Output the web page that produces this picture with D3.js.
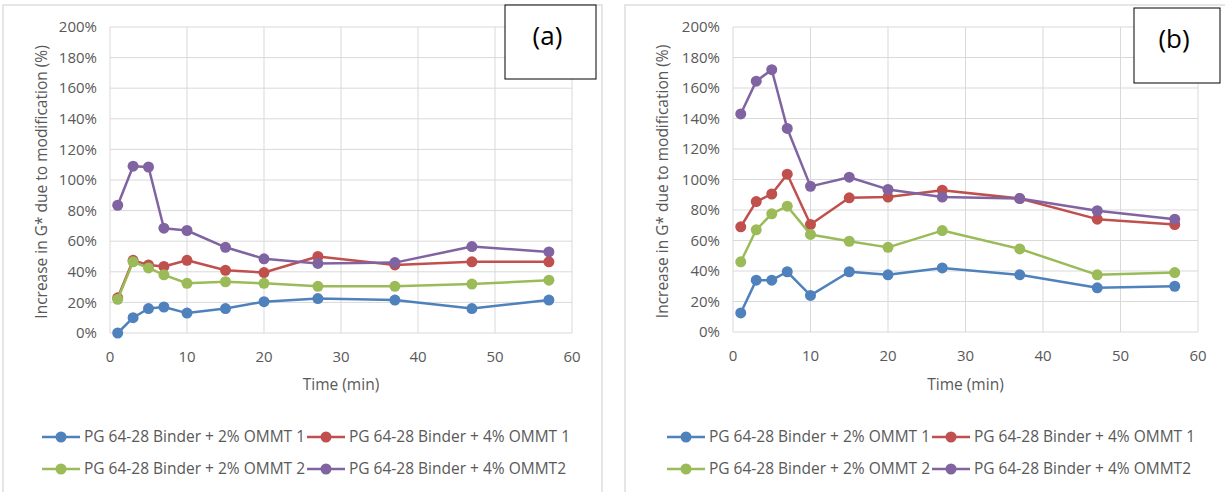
<!DOCTYPE html>
<html lang="en">
<head>
<meta charset="UTF-8">
<title>Increase in G* due to modification</title>
<script src="https://d3js.org/d3.v7.min.js"></script>
<style>
    body { margin: 0; background: #fff; }
    svg { display: block; font-family: 'Open Sans', 'Noto Sans', sans-serif; }
    .tick-label { fill: #595959; font-size: 15px; }
    .axis-title { fill: #595959; font-size: 15.5px; }
    .legend-label { fill: #595959; font-size: 15.5px; }
    .panel-tag { fill: #000; font-size: 26px; }
</style>
</head>
<body>
<svg id="chart" width="1225" height="492"></svg>
<script>
// Time of measurement (min)
const times = [1, 3, 5, 7, 10, 15, 20, 27, 37, 47, 57];

const seriesNames = [
    'PG 64-28 Binder + 2% OMMT 1',
    'PG 64-28 Binder + 4% OMMT 1',
    'PG 64-28 Binder + 2% OMMT 2',
    'PG 64-28 Binder + 4% OMMT2'
];
const seriesColors = ['#4F81BD', '#C0504D', '#9BBB59', '#8064A2'];

// panel (a), increase in G* (%)
const a2pct1 = [0, 10, 16, 17, 13, 16, 20.5, 22.5, 21.5, 16, 21.5];
const a4pct1 = [23, 47.5, 44.5, 43.5, 47.5, 41, 39.5, 50, 44.5, 46.5, 46.5];
const a2pct2 = [22, 46.5, 42.5, 38, 32.5, 33.5, 32.5, 30.5, 30.5, 32, 34.5];
const a4pct2 = [83.5, 109, 108.5, 68.5, 67, 56, 48.5, 45.5, 46, 56.5, 53];

// panel (b), increase in G* (%)
const b2pct1 = [12.5, 34, 34, 39.5, 24, 39.5, 37.5, 42, 37.5, 29, 30];
const b4pct1 = [69, 85.5, 90.5, 103.5, 70.5, 88, 88.5, 93, 87.5, 74, 70.5];
const b2pct2 = [46, 67, 77.5, 82.5, 64, 59.5, 55.5, 66.5, 54.5, 37.5, 39];
const b4pct2 = [143, 164.5, 172, 133.5, 95.5, 101.5, 93.5, 88.5, 87.5, 79.5, 74];

const xTicks = d3.range(0, 61, 10);
const yTicks = d3.range(0, 201, 20);

const svg = d3.select('#chart');

function drawPanel(p) {
    const g = svg.append('g');

    // outer chart border
    g.append('rect')
        .attr('x', p.frame[0]).attr('y', p.frame[1])
        .attr('width', p.frame[2]).attr('height', p.frame[3])
        .attr('fill', '#fff').attr('stroke', '#d9d9d9').attr('stroke-width', 1.3);

    const x = d3.scaleLinear().domain([0, 60]).range([p.left, p.right]);
    const y = d3.scaleLinear().domain([0, 200]).range([p.bottom, p.top]);

    // gridlines
    g.append('g').selectAll('line.h')
        .data(yTicks).enter().append('line')
        .attr('x1', p.left).attr('x2', p.right)
        .attr('y1', d => y(d)).attr('y2', d => y(d))
        .attr('stroke', '#d9d9d9').attr('stroke-width', 1);
    g.append('g').selectAll('line.v')
        .data(xTicks).enter().append('line')
        .attr('x1', d => x(d)).attr('x2', d => x(d))
        .attr('y1', p.top).attr('y2', p.bottom)
        .attr('stroke', '#d9d9d9').attr('stroke-width', 1);

    // tick labels
    g.append('g').selectAll('text')
        .data(yTicks).enter().append('text')
        .attr('class', 'tick-label')
        .attr('x', p.left - 13).attr('y', d => y(d))
        .attr('dy', '0.35em').attr('text-anchor', 'end')
        .text(d => d + '%');
    g.append('g').selectAll('text')
        .data(xTicks).enter().append('text')
        .attr('class', 'tick-label')
        .attr('x', d => x(d)).attr('y', p.bottom + 24)
        .attr('dy', '0.35em').attr('text-anchor', 'middle')
        .text(d => d);

    // axis titles
    g.append('text')
        .attr('class', 'axis-title')
        .attr('transform', `translate(${p.yTitleX},${(p.top + p.bottom) / 2 + 2}) rotate(-90)`)
        .attr('dy', '0.35em').attr('text-anchor', 'middle')
        .text('Increase in G* due to modification (%)');
    g.append('text')
        .attr('class', 'axis-title')
        .attr('x', (p.left + p.right) / 2).attr('y', 385)
        .attr('dy', '0.35em').attr('text-anchor', 'middle')
        .text('Time (min)');

    // series
    const line = d3.line().x((d, i) => x(times[i])).y(d => y(d));
    p.series.forEach((vals, k) => {
        g.append('path')
            .attr('d', line(vals))
            .attr('fill', 'none')
            .attr('stroke', seriesColors[k])
            .attr('stroke-width', 2.5)
            .attr('stroke-linejoin', 'round');
        g.append('g').selectAll('circle')
            .data(vals).enter().append('circle')
            .attr('cx', (d, i) => x(times[i]))
            .attr('cy', d => y(d))
            .attr('r', 5.5)
            .attr('fill', seriesColors[k]);
    });

    // panel tag box
    g.append('rect')
        .attr('x', p.tag[0]).attr('y', p.tag[1])
        .attr('width', p.tag[2]).attr('height', p.tag[3])
        .attr('fill', '#fff').attr('stroke', '#000').attr('stroke-width', 1);
    g.append('text')
        .attr('class', 'panel-tag')
        .attr('x', p.tag[0] + p.tag[2] / 2 - 3).attr('y', p.tag[1] + 31)
        .attr('dy', '0.35em').attr('text-anchor', 'middle')
        .text(p.label);

    // legend
    const rows = [437, 469];
    const cols = [p.legendX, p.legendX + 265];
    seriesNames.forEach((name, k) => {
        const lx = cols[k % 2];
        const ly = rows[Math.floor(k / 2)];
        g.append('line')
            .attr('x1', lx).attr('x2', lx + 38)
            .attr('y1', ly).attr('y2', ly)
            .attr('stroke', seriesColors[k]).attr('stroke-width', 2.5);
        g.append('circle')
            .attr('cx', lx + 19).attr('cy', ly).attr('r', 5.5)
            .attr('fill', seriesColors[k]);
        g.append('text')
            .attr('class', 'legend-label')
            .attr('x', lx + 42).attr('y', ly)
            .attr('dy', '0.35em')
            .text(name);
    });
}

drawPanel({
    label: '(a)',
    frame: [3, 5, 599, 500],
    left: 110, right: 572, top: 27, bottom: 333,
    yTitleX: 42,
    tag: [505, 5, 91, 74],
    legendX: 42,
    series: [a2pct1, a4pct1, a2pct2, a4pct2]
});

drawPanel({
    label: '(b)',
    frame: [625, 5, 700, 500],
    left: 733, right: 1198, top: 27, bottom: 332,
    yTitleX: 663,
    tag: [1134, 8, 86, 75],
    legendX: 667,
    series: [b2pct1, b4pct1, b2pct2, b4pct2]
});
</script>
</body>
</html>
